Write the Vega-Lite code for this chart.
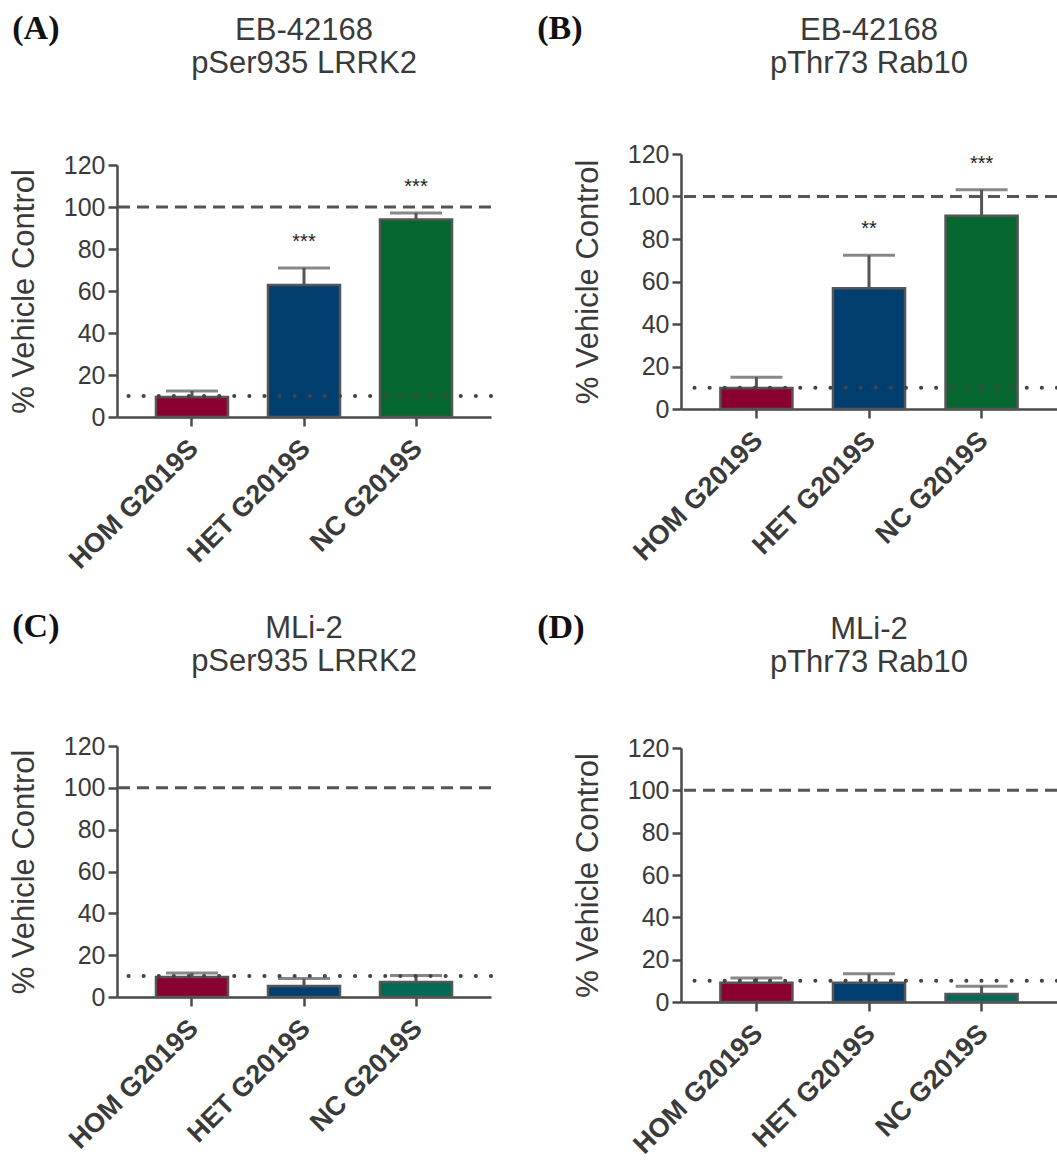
{
  "$schema": "https://vega.github.io/schema/vega-lite/v6.json",
  "background": "white",
  "padding": {"left": 8, "top": 0, "right": 0, "bottom": 0},
  "config": {
    "font": "Liberation Sans",
    "view": {"stroke": null},
    "axis": {"grid": false, "domainColor": "#4a4a4a", "domainWidth": 2.5, "tickColor": "#4a4a4a", "tickWidth": 2.5, "tickSize": 9, "labelColor": "#3a3a3a", "labelFont": "Liberation Sans", "titleFont": "Liberation Sans", "titleColor": "#3a3a3a", "titleFontWeight": "normal"},
    "axisY": {"labelFontSize": 25, "titleFontSize": 31, "titlePadding": 23, "labelPadding": 3, "values": [0, 20, 40, 60, 80, 100, 120]},
    "axisX": {"labelFontSize": 27, "labelFontWeight": "bold", "labelAngle": -45, "labelPadding": 9, "labelOffset": -7, "title": null},
    "title": {"font": "Liberation Sans", "fontSize": 31, "fontWeight": "normal", "color": "#3a3a3a", "lineHeight": 33}
  },
  "datasets": {
    "bars": [
      {"panel": "A", "group": "HOM G2019S", "mean": 9.5, "upper": 12.4, "sig": ""},
      {"panel": "A", "group": "HET G2019S", "mean": 62.8, "upper": 71, "sig": "***"},
      {"panel": "A", "group": "NC G2019S", "mean": 94, "upper": 97.2, "sig": "***"},
      {"panel": "B", "group": "HOM G2019S", "mean": 9.9, "upper": 15, "sig": ""},
      {"panel": "B", "group": "HET G2019S", "mean": 56.8, "upper": 72.3, "sig": "**"},
      {"panel": "B", "group": "NC G2019S", "mean": 91, "upper": 103.2, "sig": "***"},
      {"panel": "C", "group": "HOM G2019S", "mean": 9.6, "upper": 11.5, "sig": ""},
      {"panel": "C", "group": "HET G2019S", "mean": 5.3, "upper": 8.8, "sig": ""},
      {"panel": "C", "group": "NC G2019S", "mean": 7.2, "upper": 10.3, "sig": ""},
      {"panel": "D", "group": "HOM G2019S", "mean": 9.1, "upper": 11.3, "sig": ""},
      {"panel": "D", "group": "HET G2019S", "mean": 9.1, "upper": 13.3, "sig": ""},
      {"panel": "D", "group": "NC G2019S", "mean": 3.8, "upper": 7.5, "sig": ""}
    ],
    "refs": [
      {"kind": "control", "level": 100},
      {"kind": "baseline", "level": 10}
    ],
    "blank": [{"note": ""}]
  },
  "resolve": {"scale": {"fill": "independent"}},
  "spacing": 44,
  "hconcat": [
    {
      "resolve": {"scale": {"fill": "independent"}},
      "spacing": 0,
      "vconcat": [
        {"width": 10, "height": 1, "data": {"name": "blank"}, "mark": {"type": "text"}, "encoding": {"text": {"field": "note"}}},
        {
          "resolve": {"scale": {"fill": "independent"}},
          "spacing": 36,
          "vconcat": [
            {
              "title": {"text": "(A)", "anchor": "start", "frame": "bounds", "font": "Liberation Serif", "fontWeight": "bold", "fontSize": 34, "color": "#111", "offset": -31, "dx": 4},
              "vconcat": [
                {
                  "width": 374, "height": 252,
                  "title": {"text": ["EB-42168", "pSer935 LRRK2"], "anchor": "middle", "frame": "group", "offset": 73},
                  "layer": [
                    {"data": {"name": "bars"}, "transform": [{"filter": "datum.panel === 'A'"}], "mark": {"type": "rule", "strokeWidth": 3, "color": "#555555"},
                     "encoding": {"x": {"field": "group", "type": "nominal", "sort": ["HOM G2019S", "HET G2019S", "NC G2019S"], "scale": {"paddingInner": 0.357, "paddingOuter": 0.348}}, "y": {"field": "mean", "type": "quantitative", "scale": {"domain": [0, 120]}, "axis": {"title": "% Vehicle Control"}}, "y2": {"field": "upper"}}},
                    {"data": {"name": "bars"}, "transform": [{"filter": "datum.panel === 'A'"}], "mark": {"type": "tick", "orient": "horizontal", "size": 52, "thickness": 3, "color": "#555555"},
                     "encoding": {"x": {"field": "group", "type": "nominal", "sort": ["HOM G2019S", "HET G2019S", "NC G2019S"]}, "y": {"field": "upper", "type": "quantitative"}}},
                    {"data": {"name": "bars"}, "transform": [{"filter": "datum.panel === 'A'"}], "mark": {"type": "bar", "stroke": "#555555", "strokeWidth": 2.5},
                     "encoding": {"x": {"field": "group", "type": "nominal", "sort": ["HOM G2019S", "HET G2019S", "NC G2019S"]}, "y": {"field": "mean", "type": "quantitative"}, "fill": {"field": "group", "type": "nominal", "scale": {"domain": ["HOM G2019S", "HET G2019S", "NC G2019S"], "range": ["#8a0030", "#003e70", "#05662f"]}, "legend": null}}},
                    {"data": {"name": "bars"}, "transform": [{"filter": "datum.panel === 'A'"}], "mark": {"type": "text", "dy": -26, "fontSize": 20, "color": "#222222", "baseline": "middle"},
                     "encoding": {"x": {"field": "group", "type": "nominal", "sort": ["HOM G2019S", "HET G2019S", "NC G2019S"]}, "y": {"field": "upper", "type": "quantitative"}, "text": {"field": "sig"}}},
                    {"data": {"name": "refs"}, "transform": [{"filter": "datum.kind === 'control'"}], "mark": {"type": "rule", "strokeWidth": 3, "color": "#555555", "strokeDash": [12, 7]},
                     "encoding": {"y": {"field": "level", "type": "quantitative"}}},
                    {"data": {"name": "refs"}, "transform": [{"filter": "datum.kind === 'baseline'"}], "mark": {"type": "rule", "strokeWidth": 4, "color": "#444444", "strokeDash": [0.1, 15], "strokeCap": "round"},
                     "encoding": {"y": {"field": "level", "type": "quantitative"}}}
                  ]
                }
              ]
            },
            {
              "title": {"text": "(C)", "anchor": "start", "frame": "bounds", "font": "Liberation Serif", "fontWeight": "bold", "fontSize": 34, "color": "#111", "offset": -31, "dx": 4},
              "vconcat": [
                {
                  "width": 374, "height": 251,
                  "title": {"text": ["MLi-2", "pSer935 LRRK2"], "anchor": "middle", "frame": "group", "offset": 56},
                  "layer": [
                    {"data": {"name": "bars"}, "transform": [{"filter": "datum.panel === 'C'"}], "mark": {"type": "rule", "strokeWidth": 3, "color": "#555555"},
                     "encoding": {"x": {"field": "group", "type": "nominal", "sort": ["HOM G2019S", "HET G2019S", "NC G2019S"], "scale": {"paddingInner": 0.357, "paddingOuter": 0.348}}, "y": {"field": "mean", "type": "quantitative", "scale": {"domain": [0, 120]}, "axis": {"title": "% Vehicle Control"}}, "y2": {"field": "upper"}}},
                    {"data": {"name": "bars"}, "transform": [{"filter": "datum.panel === 'C'"}], "mark": {"type": "tick", "orient": "horizontal", "size": 52, "thickness": 3, "color": "#555555"},
                     "encoding": {"x": {"field": "group", "type": "nominal", "sort": ["HOM G2019S", "HET G2019S", "NC G2019S"]}, "y": {"field": "upper", "type": "quantitative"}}},
                    {"data": {"name": "bars"}, "transform": [{"filter": "datum.panel === 'C'"}], "mark": {"type": "bar", "stroke": "#555555", "strokeWidth": 2.5},
                     "encoding": {"x": {"field": "group", "type": "nominal", "sort": ["HOM G2019S", "HET G2019S", "NC G2019S"]}, "y": {"field": "mean", "type": "quantitative"}, "fill": {"field": "group", "type": "nominal", "scale": {"domain": ["HOM G2019S", "HET G2019S", "NC G2019S"], "range": ["#8a0030", "#003e70", "#006a56"]}, "legend": null}}},
                    {"data": {"name": "refs"}, "transform": [{"filter": "datum.kind === 'control'"}], "mark": {"type": "rule", "strokeWidth": 3, "color": "#555555", "strokeDash": [12, 7]},
                     "encoding": {"y": {"field": "level", "type": "quantitative"}}},
                    {"data": {"name": "refs"}, "transform": [{"filter": "datum.kind === 'baseline'"}], "mark": {"type": "rule", "strokeWidth": 4, "color": "#444444", "strokeDash": [0.1, 15], "strokeCap": "round"},
                     "encoding": {"y": {"field": "level", "type": "quantitative"}}}
                  ]
                }
              ]
            }
          ]
        }
      ]
    },
    {
      "resolve": {"scale": {"fill": "independent"}},
      "spacing": 0,
      "vconcat": [
        {"width": 10, "height": 1, "data": {"name": "blank"}, "mark": {"type": "text"}, "encoding": {"text": {"field": "note"}}},
        {
          "resolve": {"scale": {"fill": "independent"}},
          "spacing": 45,
          "vconcat": [
            {
              "title": {"text": "(B)", "anchor": "start", "frame": "bounds", "font": "Liberation Serif", "fontWeight": "bold", "fontSize": 34, "color": "#111", "offset": -31, "dx": -35},
              "vconcat": [
                {
                  "width": 376, "height": 255,
                  "title": {"text": ["EB-42168", "pThr73 Rab10"], "anchor": "middle", "frame": "group", "offset": 62},
                  "layer": [
                    {"data": {"name": "bars"}, "transform": [{"filter": "datum.panel === 'B'"}], "mark": {"type": "rule", "strokeWidth": 3, "color": "#555555"},
                     "encoding": {"x": {"field": "group", "type": "nominal", "sort": ["HOM G2019S", "HET G2019S", "NC G2019S"], "scale": {"paddingInner": 0.36, "paddingOuter": 0.35}}, "y": {"field": "mean", "type": "quantitative", "scale": {"domain": [0, 120]}, "axis": {"title": "% Vehicle Control"}}, "y2": {"field": "upper"}}},
                    {"data": {"name": "bars"}, "transform": [{"filter": "datum.panel === 'B'"}], "mark": {"type": "tick", "orient": "horizontal", "size": 52, "thickness": 3, "color": "#555555"},
                     "encoding": {"x": {"field": "group", "type": "nominal", "sort": ["HOM G2019S", "HET G2019S", "NC G2019S"]}, "y": {"field": "upper", "type": "quantitative"}}},
                    {"data": {"name": "bars"}, "transform": [{"filter": "datum.panel === 'B'"}], "mark": {"type": "bar", "stroke": "#555555", "strokeWidth": 2.5},
                     "encoding": {"x": {"field": "group", "type": "nominal", "sort": ["HOM G2019S", "HET G2019S", "NC G2019S"]}, "y": {"field": "mean", "type": "quantitative"}, "fill": {"field": "group", "type": "nominal", "scale": {"domain": ["HOM G2019S", "HET G2019S", "NC G2019S"], "range": ["#8a0030", "#003e70", "#05662f"]}, "legend": null}}},
                    {"data": {"name": "bars"}, "transform": [{"filter": "datum.panel === 'B'"}], "mark": {"type": "text", "dy": -26, "fontSize": 20, "color": "#222222", "baseline": "middle"},
                     "encoding": {"x": {"field": "group", "type": "nominal", "sort": ["HOM G2019S", "HET G2019S", "NC G2019S"]}, "y": {"field": "upper", "type": "quantitative"}, "text": {"field": "sig"}}},
                    {"data": {"name": "refs"}, "transform": [{"filter": "datum.kind === 'control'"}], "mark": {"type": "rule", "strokeWidth": 3, "color": "#555555", "strokeDash": [12, 7]},
                     "encoding": {"y": {"field": "level", "type": "quantitative"}}},
                    {"data": {"name": "refs"}, "transform": [{"filter": "datum.kind === 'baseline'"}], "mark": {"type": "rule", "strokeWidth": 4, "color": "#444444", "strokeDash": [0.1, 15], "strokeCap": "round"},
                     "encoding": {"y": {"field": "level", "type": "quantitative"}}}
                  ]
                }
              ]
            },
            {
              "title": {"text": "(D)", "anchor": "start", "frame": "bounds", "font": "Liberation Serif", "fontWeight": "bold", "fontSize": 34, "color": "#111", "offset": -31, "dx": -35},
              "vconcat": [
                {
                  "width": 376, "height": 254,
                  "title": {"text": ["MLi-2", "pThr73 Rab10"], "anchor": "middle", "frame": "group", "offset": 57},
                  "layer": [
                    {"data": {"name": "bars"}, "transform": [{"filter": "datum.panel === 'D'"}], "mark": {"type": "rule", "strokeWidth": 3, "color": "#555555"},
                     "encoding": {"x": {"field": "group", "type": "nominal", "sort": ["HOM G2019S", "HET G2019S", "NC G2019S"], "scale": {"paddingInner": 0.36, "paddingOuter": 0.35}}, "y": {"field": "mean", "type": "quantitative", "scale": {"domain": [0, 120]}, "axis": {"title": "% Vehicle Control"}}, "y2": {"field": "upper"}}},
                    {"data": {"name": "bars"}, "transform": [{"filter": "datum.panel === 'D'"}], "mark": {"type": "tick", "orient": "horizontal", "size": 52, "thickness": 3, "color": "#555555"},
                     "encoding": {"x": {"field": "group", "type": "nominal", "sort": ["HOM G2019S", "HET G2019S", "NC G2019S"]}, "y": {"field": "upper", "type": "quantitative"}}},
                    {"data": {"name": "bars"}, "transform": [{"filter": "datum.panel === 'D'"}], "mark": {"type": "bar", "stroke": "#555555", "strokeWidth": 2.5},
                     "encoding": {"x": {"field": "group", "type": "nominal", "sort": ["HOM G2019S", "HET G2019S", "NC G2019S"]}, "y": {"field": "mean", "type": "quantitative"}, "fill": {"field": "group", "type": "nominal", "scale": {"domain": ["HOM G2019S", "HET G2019S", "NC G2019S"], "range": ["#8a0030", "#003e70", "#006a56"]}, "legend": null}}},
                    {"data": {"name": "refs"}, "transform": [{"filter": "datum.kind === 'control'"}], "mark": {"type": "rule", "strokeWidth": 3, "color": "#555555", "strokeDash": [12, 7]},
                     "encoding": {"y": {"field": "level", "type": "quantitative"}}},
                    {"data": {"name": "refs"}, "transform": [{"filter": "datum.kind === 'baseline'"}], "mark": {"type": "rule", "strokeWidth": 4, "color": "#444444", "strokeDash": [0.1, 15], "strokeCap": "round"},
                     "encoding": {"y": {"field": "level", "type": "quantitative"}}}
                  ]
                }
              ]
            }
          ]
        }
      ]
    }
  ]
}
